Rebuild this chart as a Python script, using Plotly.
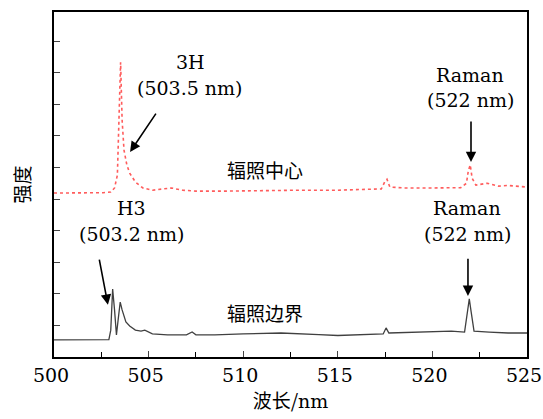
import plotly.graph_objects as go

# top curve (辐照中心)
wl_center = [500, 501, 502, 502.6, 503.0, 503.2, 503.35, 503.45, 503.52, 503.6, 503.7, 503.85, 504.0,
             504.3, 504.7, 505.2, 505.8, 506.2, 506.8, 507.5, 509, 511, 513, 515, 517.3, 517.5,
             517.6, 517.75, 518.5, 520, 521.5, 521.8, 521.9, 522.0, 522.1, 522.3, 522.9, 523.5, 524, 525]
int_center = [5.19, 5.19, 5.19, 5.20, 5.22, 5.35, 5.76, 7.5, 9.33, 7.5, 6.55, 6.08, 5.82,
              5.54, 5.35, 5.28, 5.31, 5.35, 5.28, 5.25, 5.25, 5.27, 5.28, 5.28, 5.32, 5.57,
              5.63, 5.38, 5.35, 5.35, 5.36, 5.5, 5.9, 6.08, 5.66, 5.44, 5.5, 5.41, 5.43, 5.38]

# bottom curve (辐照边界)
wl_edge = [500, 501, 502, 502.9, 503.0, 503.1, 503.2, 503.3, 503.4, 503.5, 503.6, 503.8, 504.0,
           504.3, 504.6, 504.8, 505.2, 506, 507, 507.3, 507.5, 508.5, 510, 512, 514, 515, 517.4,
           517.55, 517.7, 519, 520.5, 521, 521.7, 521.85, 521.95, 522.05, 522.2, 523, 524, 525]
int_edge = [0.54, 0.54, 0.54, 0.55, 0.85, 2.15, 1.49, 0.70, 1.23, 1.74, 1.49, 1.11, 0.98,
            0.85, 0.82, 0.85, 0.73, 0.70, 0.70, 0.79, 0.70, 0.70, 0.73, 0.76, 0.71, 0.68, 0.73,
            0.92, 0.76, 0.78, 0.79, 0.82, 0.79, 1.42, 1.84, 1.42, 0.82, 0.79, 0.76, 0.76]

x_ticks = [500, 505, 510, 515, 520, 525]
y_ticks = [1, 2, 3, 4, 5, 6, 7, 8, 9, 10]

SERIF = "DejaVu Serif"
CJK = "Noto Sans CJK SC"

fig = go.Figure()
fig.add_trace(go.Scatter(x=wl_center, y=int_center, mode="lines",
                         line=dict(color="#ff5c5c", width=1.6, dash="dot"), showlegend=False))
fig.add_trace(go.Scatter(x=wl_edge, y=int_edge, mode="lines",
                         line=dict(color="#404040", width=1.3), showlegend=False))

anns = []
def txt(x, y, s, font=SERIF, size=19):
    anns.append(dict(x=x, y=y, xref="x", yref="y", text=s, showarrow=False,
                     font=dict(family=font, size=size, color="black")))

def arrow(x0, y0, x1, y1):
    anns.append(dict(x=x1, y=y1, ax=x0, ay=y0, xref="x", yref="y", axref="x", ayref="y",
                     text="", showarrow=True, arrowhead=2, arrowsize=1.3, arrowwidth=1.6,
                     arrowcolor="black"))

txt(507.19, 9.34, "3H")
txt(507.19, 8.51, "(503.5 nm)")
arrow(505.44, 7.75, 504.02, 6.49)
txt(521.99, 8.92, "Raman")
txt(521.99, 8.13, "(522 nm)")
arrow(522.04, 7.5, 522.04, 6.17)
txt(511.15, 5.92, "辐照中心", CJK, 19)
txt(504.12, 4.72, "H3")
txt(504.12, 3.89, "(503.2 nm)")
arrow(502.38, 3.13, 502.85, 1.65)
txt(511.15, 1.42, "辐照边界", CJK, 19)
txt(521.83, 4.72, "Raman")
txt(521.83, 3.89, "(522 nm)")
arrow(521.88, 3.16, 521.88, 1.93)

fig.update_layout(
    width=543, height=419,
    margin=dict(l=54, r=16, t=12, b=62, autoexpand=False),
    paper_bgcolor="white", plot_bgcolor="white",
    annotations=anns,
    xaxis=dict(range=[500, 525], tickvals=x_ticks, ticks="inside", ticklen=6, tickwidth=1.3,
               showline=True, linecolor="black", linewidth=1.8, mirror=True, showgrid=False,
               zeroline=False, tickfont=dict(family=SERIF, size=19, color="black"),
               ticklabeloverflow="allow", automargin=False, ticklabelshift=-3,
               minor=dict(ticks="inside", dtick=2.5, tick0=500, ticklen=5, tickwidth=1.2, tickcolor="black"),
               title=dict(text="波长/<span style='font-family:DejaVu Serif'>nm</span>",
                          font=dict(family=CJK, size=19, color="black"), standoff=8)),
    yaxis=dict(range=[0, 10.92], tickvals=y_ticks, ticks="inside", ticklen=6, tickwidth=1.3,
               showticklabels=False, showline=True, linecolor="black", linewidth=1.8, mirror=True,
               showgrid=False, zeroline=False, automargin=False,
               title=dict(text="强度", font=dict(family=CJK, size=19, color="black"), standoff=16)),
)

fig.write_html("out.html")
